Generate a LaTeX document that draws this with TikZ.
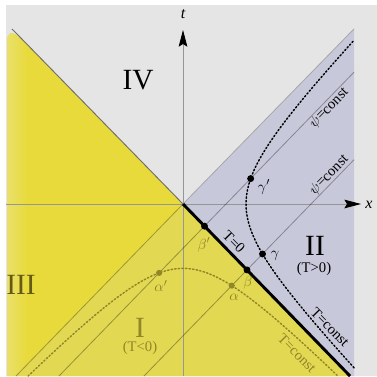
\documentclass[tikz,border=0pt]{standalone}
\usepackage{fontspec}
\setmainfont{Liberation Serif}
\usetikzlibrary{arrows.meta}
\definecolor{bggray}{RGB}{229,229,229}
\definecolor{lav}{RGB}{200,200,219}
\definecolor{yel}{RGB}{231,218,58}
\definecolor{yellight}{RGB}{234,224,105}
\definecolor{yelI}{RGB}{226,216,82}
\definecolor{olivetxt}{RGB}{145,134,40}
\definecolor{olivedark}{RGB}{100,90,22}
\definecolor{axisgray}{RGB}{150,150,150}
\definecolor{conegray}{RGB}{110,110,110}
\begin{document}
\begin{tikzpicture}[x=0.75pt,y=-0.75pt,
  lbl/.style={font=\fontsize{11}{13}\selectfont, inner sep=0pt},
  roman/.style={font=\fontsize{22}{26}\selectfont, inner sep=0pt},
  blackdot/.style={circle, fill=black, inner sep=0pt, minimum size=5.2pt},
  olivedot/.style={circle, fill=olivetxt, inner sep=0pt, minimum size=4.6pt},
  psiline/.style={draw=black, draw opacity=0.33, line width=0.6pt},
  axisline/.style={draw=axisgray, line width=0.6pt, -{Stealth[length=12.5pt,width=6.5pt,inset=2pt,color=black]}},
  hyp/.style={line width=1.1pt, dash pattern=on 1.1pt off 1.6pt, line cap=round}
]
\useasboundingbox (0,0) rectangle (377,376);
% background and regions
\fill[bggray] (6,5) rectangle (377,376);
\fill[lav] (183,204) -- (354,29) -- (354,376) -- (350,376) -- cycle;
\fill[yel] (7,376) [rounded corners=5pt] -- (7,33) -- (16,33) [sharp corners] -- (183,204) -- (350,376) -- cycle;
\begin{scope}
  \clip (7,376) [rounded corners=5pt] -- (7,33) -- (16,33) [sharp corners] -- (183,204) -- (16,376) -- cycle;
  \shade[left color=yellight, right color=yel] (7,30) rectangle (28,376);
\end{scope}
\fill[yelI] (16,376) -- (183,204) -- (350,376) -- cycle;
% axes
\draw[axisline] (6,204) -- (361,204);
\draw[axisline] (183,376) -- (183,30);
\begin{scope}[shift={(183,204)}, yscale=-1.03]
  % light cone
  \draw[conegray, line width=0.7pt] (-171,170) -- (0,0);
  \draw[black!35, line width=0.6pt] (0,0) -- (171,170);
  \draw[black, opacity=0.3, line width=0.6pt] (0,0) -- (-167,-167);
  % psi = const lines
  \draw[psiline] (-124,-167) -- (171,128);
  \draw[psiline] (-39,-167) -- (171,43);
  % horizon T=0
  \draw[black, line width=2.2pt] (0,0) -- (167,-167);
  % T = const hyperbolae
  \draw[hyp, black] plot[domain=-1.656:1.656, samples=90, smooth, variable=\u] ({63*cosh(\u)},{63*sinh(\u)});
  \draw[hyp, olivetxt] plot[domain=-1.639:1.639, samples=90, smooth, variable=\u] ({62.5*sinh(\u)},{-62.5*cosh(\u)});
  % events
  \node[blackdot] (bp) at (21.5,-21.5) {};
  \node[blackdot] (b) at (64,-64) {};
  \node[blackdot] (gp) at (67.65,24.65) {};
  \node[blackdot] (g) at (79.5,-48.5) {};
  \node[olivedot] (ap) at (-23.9,-66.9) {};
  \node[olivedot] (a) at (48.75,-79.25) {};
\end{scope}
% labels
\node[font=\fontsize{12}{14}\selectfont\itshape, inner sep=0pt] (tl) at (183,14) {t};
\node[font=\fontsize{12}{14}\selectfont\itshape, inner sep=0pt] (xl) at (369,205) {x};
\node[roman] (IV) at (138,80) {IV};
\node[roman, text=olivedark] (III) at (21,285) {III};
\node[roman, text=olivetxt] (I) at (140,328) {I};
\node[lbl, text=olivetxt] (Tneg) at (140,348) {(T<0)};
\node[roman] (II) at (315,246) {II};
\node[lbl] (Tpos) at (314,269) {(T>0)};
\node[lbl, rotate=-45.6] (T0) at (234,242) {T=0};
\node[lbl, rotate=-45.6] (TcII) at (330,327) {T=const};
\node[lbl, rotate=-45.6, text=olivetxt] (TcI) at (297,353) {T=const};
\node[lbl, rotate=45.6] (psi1) at (329,108) {$\psi$=const};
\node[lbl, rotate=45.6] (psi2) at (329,175) {$\psi$=const};
\node[lbl] (gpl) at (264,187) {$\gamma'$};
\node[lbl] (gl) at (275,256) {$\gamma$};
\node[lbl, text=olivetxt] (bpl) at (204,245) {$\beta'$};
\node[lbl, text=olivetxt] (bl) at (248,283) {$\beta$};
\node[lbl, text=olivetxt] (al) at (234,297) {$\alpha$};
\node[lbl, text=olivetxt] (apl) at (161,286) {$\alpha'$};
\end{tikzpicture}
\end{document}
